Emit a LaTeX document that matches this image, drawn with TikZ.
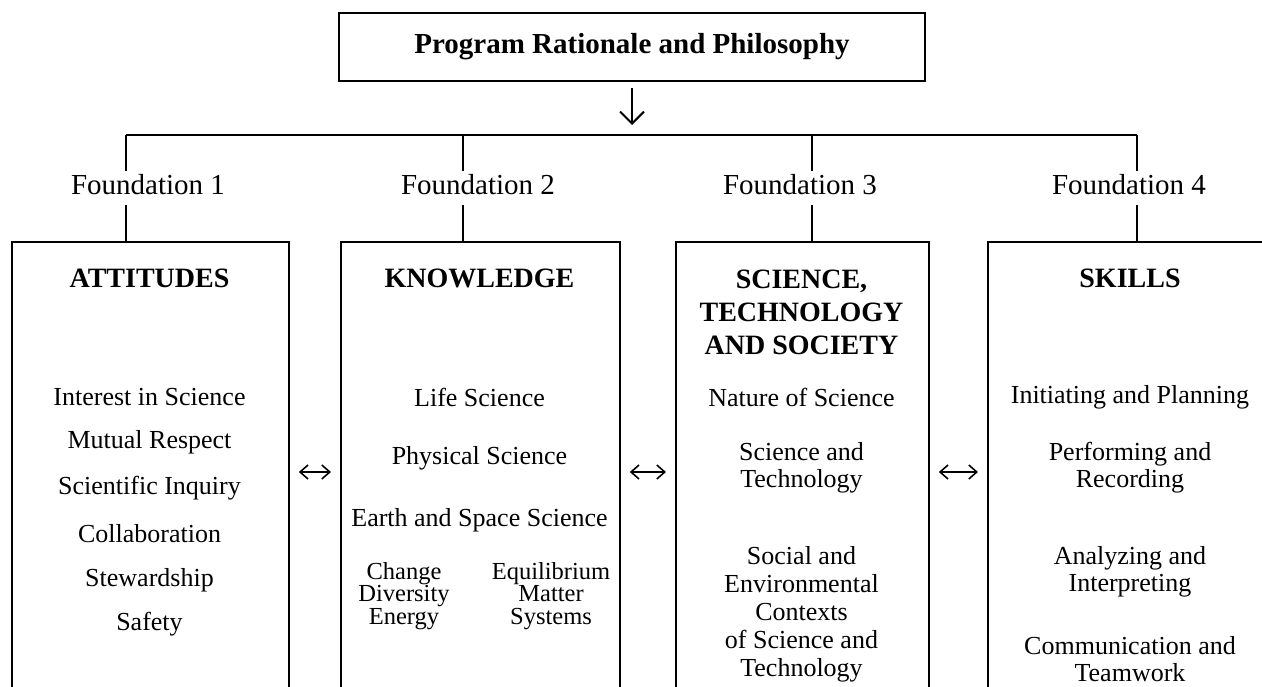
\documentclass[tikz,border=0pt]{standalone}
\usepackage{fontspec}
\setmainfont{Liberation Serif}
\usetikzlibrary{arrows.meta,calc,positioning}

\begin{document}
\begin{tikzpicture}[x=1pt,y=-1pt]
		\tikzstyle{every node}=[font=\fontsize{26}{27}\selectfont, align=center, inner sep=0pt]
		\tikzstyle{heading}=[font=\fontsize{28}{33}\selectfont\bfseries]
		\tikzstyle{found}=[font=\fontsize{29}{34}\selectfont, text height=20pt, text depth=6pt, inner ysep=4pt]
		\tikzstyle{colbox}=[draw, line width=1.8pt, anchor=north west, minimum height=480pt]
		\tikzstyle{small}=[font=\fontsize{24.5}{22.5}\selectfont]
		\tikzstyle{link}=[line width=1.8pt]
		\tikzstyle{dblarrow}=[line width=1.6pt, {Straight Barb[length=8pt,width=14pt]}-{Straight Barb[length=8pt,width=14pt]}, shorten <=9pt, shorten >=9pt]
		\useasboundingbox (0,0) rectangle (1262,687);
		% top box and arrow
		\node [draw, link, minimum width=586pt, minimum height=68pt, font=\fontsize{29}{34}\selectfont\bfseries] (rationale) at (632,47) {Program Rationale and Philosophy};
		\coordinate (bus) at (632,135);
		\draw [line width=2pt, -{Straight Barb[length=12pt,width=24pt]}] ([yshift=-6pt]rationale.south) -- ([yshift=10pt]bus);
		% foundations
		\node [found] (found1) at (148,188) {Foundation 1};
		\node [found] (found2) at (478,188) {Foundation 2};
		\node [found] (found3) at (800,188) {Foundation 3};
		\node [found] (found4) at (1129,188) {Foundation 4};
		\coordinate (stem1) at (126,135);
		\coordinate (stem2) at (463,135);
		\coordinate (stem3) at (812,135);
		\coordinate (stem4) at (1137,135);
		\draw [link] (stem1) -- (stem4);
		% columns
		\node [colbox, minimum width=277pt] (attbox) at (11,241) {};
		\node [colbox, minimum width=279pt] (knowbox) at (340,241) {};
		\node [colbox, minimum width=253pt] (stsbox) at (675,241) {};
		\node [colbox, minimum width=320pt] (skillbox) at (987,241) {};
		\draw [link] (stem1) -- (stem1 |- found1.north) (stem1 |- found1.south) -- (stem1 |- attbox.north);
		\draw [link] (stem2) -- (stem2 |- found2.north) (stem2 |- found2.south) -- (stem2 |- knowbox.north);
		\draw [link] (stem3) -- (stem3 |- found3.north) (stem3 |- found3.south) -- (stem3 |- stsbox.north);
		\draw [link] (stem4) -- (stem4 |- found4.north) (stem4 |- found4.south) -- (stem4 |- skillbox.north);
		% arrows between columns
		\coordinate (arrowrow) at (0,472);
		\draw [dblarrow] (attbox.east |- arrowrow) -- (knowbox.west |- arrowrow);
		\draw [dblarrow] (knowbox.east |- arrowrow) -- (stsbox.west |- arrowrow);
		\draw [dblarrow] (stsbox.east |- arrowrow) -- (skillbox.west |- arrowrow);
		% attitudes
		\node [heading] (atthead) at (149.5,278) {ATTITUDES};
		\node (att1) at (149.5,397) {Interest in Science};
		\node (att2) at (149.5,442) {Mutual Respect};
		\node (att3) at (149.5,488) {Scientific Inquiry};
		\node (att4) at (149.5,534) {Collaboration};
		\node (att5) at (149.5,580) {Stewardship};
		\node (att6) at (149.5,624) {Safety};
		% knowledge
		\node [heading] (knowhead) at (479.5,278) {KNOWLEDGE};
		\node (know1) at (479.5,397) {Life Science};
		\node (know2) at (479.5,458) {Physical Science};
		\node (know3) at (479.5,520) {Earth and Space Science};
		\node [small] (know4) at (404,596) {Change\\Diversity\\Energy};
		\node [small] (know5) at (551,596) {Equilibrium\\Matter\\Systems};
		% science, technology and society
		\node [heading] (stshead) at (801.5,312) {SCIENCE,\\TECHNOLOGY\\AND SOCIETY};
		\node (sts1) at (801.5,397) {Nature of Science};
		\node (sts2) at (801.5,468) {Science and\\Technology};
		\node [font=\fontsize{26}{28}\selectfont] (sts3) at (801.5,614) {Social and\\Environmental\\Contexts\\of Science and\\Technology};
		% skills
		\node [heading] (skillhead) at (1130,278) {SKILLS};
		\node (skill1) at (1130,397) {Initiating and Planning};
		\node (skill2) at (1130,468) {Performing and\\Recording};
		\node (skill3) at (1130,572) {Analyzing and\\Interpreting};
		\node (skill4) at (1130,659) {Communication and\\Teamwork};
	\end{tikzpicture}
\end{document}
